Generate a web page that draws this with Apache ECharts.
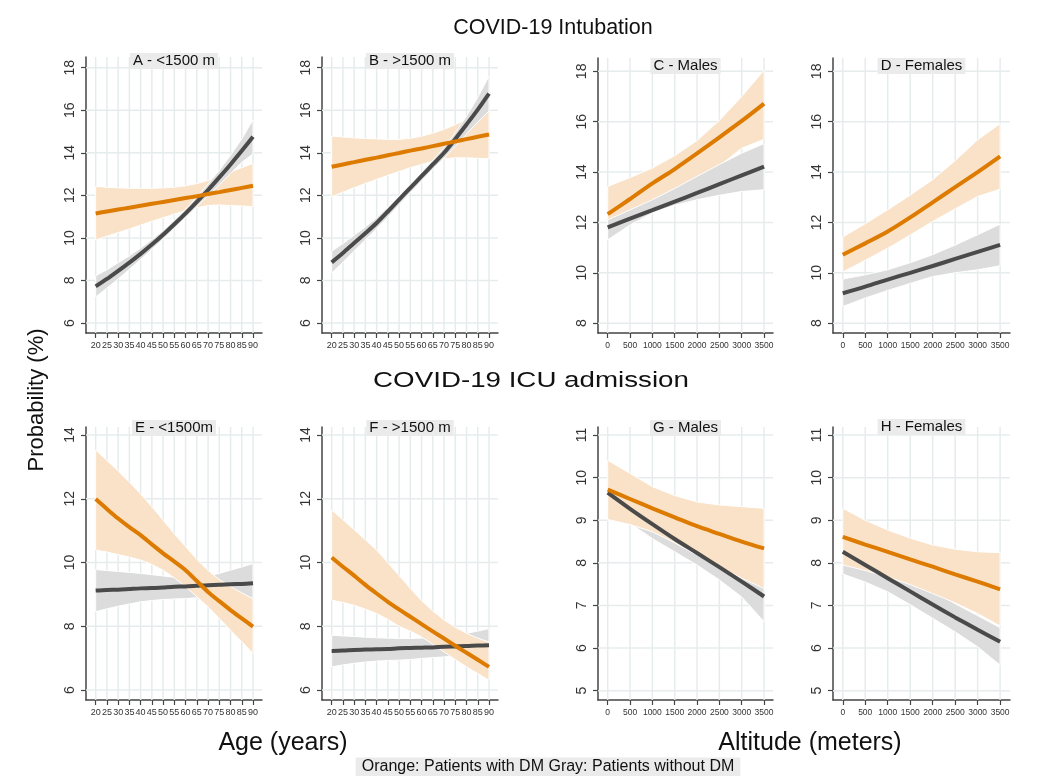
<!DOCTYPE html>
<html>
<head>
<meta charset="utf-8">
<title>COVID-19 Intubation / ICU admission</title>
<script src="https://cdn.jsdelivr.net/npm/echarts@6/dist/echarts.min.js"></script>
<style>
  html, body { margin: 0; padding: 0; background: #fff; }
  #chart { width: 1063px; height: 776px; }
</style>
</head>
<body>
<div id="chart"></div>
<script>
// ---------- ticks ----------
const ageTicks = [20, 25, 30, 35, 40, 45, 50, 55, 60, 65, 70, 75, 80, 85, 90];
const altTicks = [0, 500, 1000, 1500, 2000, 2500, 3000, 3500];
const topAgeYTicks = [6, 8, 10, 12, 14, 16, 18];
const topAltYTicks = [8, 10, 12, 14, 16, 18];
const botAgeYTicks = [6, 8, 10, 12, 14];
const botAltYTicks = [5, 6, 7, 8, 9, 10, 11];

const panelTitles = ['A - <1500 m', 'B - >1500 m', 'C - Males', 'D - Females',
  'E - <1500m', 'F - >1500 m', 'G - Males', 'H - Females'];

// ---------- A: intubation, <1500 m, by age ----------
const aOrange   = [11.15, 11.24, 11.33, 11.42, 11.51, 11.60, 11.69, 11.78, 11.87, 11.96, 12.06, 12.15, 12.25, 12.35, 12.45];
const aOrangeLo = [9.90, 10.08, 10.25, 10.42, 10.60, 10.78, 10.95, 11.12, 11.28, 11.42, 11.52, 11.55, 11.52, 11.50, 11.47];
const aOrangeHi = [12.42, 12.38, 12.35, 12.33, 12.33, 12.33, 12.35, 12.38, 12.45, 12.55, 12.70, 12.90, 13.10, 13.30, 13.50];
const aGray     = [7.72, 8.07, 8.45, 8.84, 9.25, 9.69, 10.15, 10.64, 11.15, 11.69, 12.25, 12.84, 13.45, 14.09, 14.75];
const aGrayLo   = [7.22, 7.64, 8.07, 8.52, 8.98, 9.46, 9.95, 10.45, 10.95, 11.46, 11.97, 12.50, 13.02, 13.55, 13.95];
const aGrayHi   = [8.22, 8.50, 8.83, 9.16, 9.52, 9.92, 10.35, 10.83, 11.35, 11.92, 12.53, 13.18, 13.88, 14.65, 15.55];

// ---------- B: intubation, >1500 m, by age ----------
const bOrange   = [13.34, 13.45, 13.56, 13.67, 13.77, 13.88, 13.99, 14.10, 14.20, 14.31, 14.42, 14.53, 14.64, 14.75, 14.86];
const bOrangeLo = [11.93, 12.15, 12.36, 12.56, 12.75, 12.94, 13.12, 13.30, 13.45, 13.60, 13.72, 13.76, 13.76, 13.74, 13.72];
const bOrangeHi = [14.78, 14.74, 14.70, 14.67, 14.65, 14.63, 14.63, 14.68, 14.78, 14.92, 15.10, 15.32, 15.57, 15.84, 16.12];
const bGray     = [8.85, 9.29, 9.76, 10.22, 10.70, 11.24, 11.80, 12.35, 12.90, 13.45, 14.00, 14.65, 15.33, 16.03, 16.78];
const bGrayLo   = [8.35, 8.85, 9.38, 9.90, 10.43, 10.98, 11.56, 12.12, 12.68, 13.22, 13.75, 14.30, 14.88, 15.45, 15.96];
const bGrayHi   = [9.37, 9.73, 10.12, 10.52, 10.95, 11.45, 11.98, 12.52, 13.08, 13.65, 14.25, 14.95, 15.72, 16.60, 17.60];

// ---------- C: intubation, males, by altitude ----------
const cOrange   = [12.33, 12.93, 13.55, 14.12, 14.74, 15.38, 16.03, 16.72];
const cOrangeLo = [11.34, 12.10, 12.83, 13.25, 13.63, 14.25, 14.95, 15.30];
const cOrangeHi = [13.43, 13.78, 14.16, 14.65, 15.25, 16.05, 17.00, 18.04];
const cGray     = [11.80, 12.15, 12.49, 12.83, 13.17, 13.52, 13.87, 14.22];
const cGrayLo   = [11.31, 11.90, 12.38, 12.68, 12.90, 13.08, 13.23, 13.30];
const cGrayHi   = [12.10, 12.50, 12.90, 13.35, 13.83, 14.30, 14.75, 15.13];

// ---------- D: intubation, females, by altitude ----------
const dOrange   = [10.72, 11.17, 11.64, 12.20, 12.80, 13.40, 14.00, 14.62];
const dOrangeLo = [10.03, 10.50, 10.98, 11.50, 12.04, 12.54, 13.03, 13.32];
const dOrangeHi = [11.42, 11.95, 12.50, 13.08, 13.70, 14.45, 15.28, 15.92];
const dGray     = [9.19, 9.45, 9.73, 10.00, 10.27, 10.55, 10.83, 11.11];
const dGrayLo   = [8.66, 9.00, 9.30, 9.58, 9.85, 10.00, 10.12, 10.28];
const dGrayHi   = [9.75, 9.92, 10.12, 10.40, 10.72, 11.10, 11.51, 11.93];

// ---------- E: ICU, <1500 m, by age ----------
const eOrange   = [11.99, 11.68, 11.38, 11.11, 10.86, 10.57, 10.29, 10.03, 9.76, 9.42, 9.08, 8.79, 8.51, 8.25, 7.99];
const eOrangeLo = [10.39, 10.33, 10.25, 10.17, 10.08, 9.94, 9.76, 9.52, 9.24, 8.93, 8.61, 8.25, 7.88, 7.52, 7.15];
const eOrangeHi = [13.53, 13.20, 12.87, 12.52, 12.15, 11.75, 11.33, 10.90, 10.50, 10.10, 9.75, 9.47, 9.25, 9.05, 8.87];
const eGray     = [9.12, 9.14, 9.15, 9.17, 9.19, 9.20, 9.22, 9.24, 9.25, 9.27, 9.29, 9.30, 9.32, 9.33, 9.35];
const eGrayLo   = [8.46, 8.55, 8.63, 8.70, 8.77, 8.81, 8.84, 8.86, 8.87, 8.90, 8.95, 8.97, 8.97, 8.93, 8.88];
const eGrayHi   = [9.78, 9.75, 9.72, 9.69, 9.66, 9.62, 9.58, 9.54, 9.50, 9.52, 9.58, 9.66, 9.76, 9.86, 9.97];

// ---------- F: ICU, >1500 m, by age ----------
const fOrange   = [10.16, 9.87, 9.59, 9.30, 9.03, 8.77, 8.53, 8.30, 8.07, 7.84, 7.62, 7.39, 7.17, 6.95, 6.73];
const fOrangeLo = [8.82, 8.75, 8.66, 8.54, 8.40, 8.22, 8.00, 7.85, 7.67, 7.44, 7.20, 6.96, 6.73, 6.52, 6.31];
const fOrangeHi = [11.65, 11.34, 11.03, 10.71, 10.39, 9.99, 9.59, 9.19, 8.80, 8.48, 8.20, 7.97, 7.78, 7.63, 7.51];
const fGray     = [7.23, 7.24, 7.26, 7.27, 7.28, 7.29, 7.31, 7.32, 7.33, 7.34, 7.36, 7.37, 7.38, 7.40, 7.41];
const fGrayLo   = [6.73, 6.79, 6.84, 6.88, 6.91, 6.93, 6.94, 6.96, 6.99, 7.02, 7.04, 7.08, 7.12, 7.16, 7.20];
const fGrayHi   = [7.72, 7.70, 7.68, 7.66, 7.64, 7.63, 7.62, 7.62, 7.63, 7.65, 7.68, 7.73, 7.78, 7.85, 7.93];

// ---------- G: ICU, males, by altitude ----------
const gOrange   = [9.72, 9.50, 9.28, 9.07, 8.86, 8.68, 8.50, 8.34];
const gOrangeLo = [9.02, 8.90, 8.73, 8.47, 8.18, 7.91, 7.64, 7.40];
const gOrangeHi = [10.41, 10.10, 9.79, 9.58, 9.43, 9.36, 9.32, 9.28];
const gGray     = [9.65, 9.27, 8.91, 8.56, 8.23, 7.90, 7.56, 7.21];
const gGrayLo   = [9.00, 8.93, 8.57, 8.26, 7.95, 7.60, 7.20, 6.62];
const gGrayHi   = [9.72, 9.36, 9.02, 8.69, 8.37, 8.05, 7.73, 7.45];

// ---------- H: ICU, females, by altitude ----------
const hOrange   = [8.61, 8.43, 8.26, 8.08, 7.91, 7.73, 7.56, 7.38];
const hOrangeLo = [7.95, 7.82, 7.67, 7.49, 7.28, 7.06, 6.81, 6.52];
const hOrangeHi = [9.28, 9.00, 8.77, 8.58, 8.42, 8.32, 8.26, 8.24];
const hGray     = [8.26, 7.95, 7.64, 7.33, 7.02, 6.72, 6.43, 6.15];
const hGrayLo   = [7.74, 7.55, 7.32, 7.02, 6.70, 6.38, 6.03, 5.60];
const hGrayHi   = [8.45, 8.20, 7.95, 7.64, 7.34, 7.04, 6.76, 6.48];

// ---------- styles ----------
const ORANGE = '#dd7a00';
const ORANGE_BAND = '#f9e2c7';
const GRAY = '#4a4a4a';
const GRAY_BAND = '#dcdcdc';
const GRIDLINE = '#e6ecec';
const AXIS = '#444';
const FONT = "'Liberation Sans', Arial, Helvetica, sans-serif";

// panel layout: rect = [left, top, width, height]
const panels = [
  { rect: [86, 57, 176, 276], x: ageTicks, xr: [15.7, 94], y: topAgeYTicks, yr: [5.53, 18.5],
    o: [aOrangeLo, aOrange, aOrangeHi], g: [aGrayLo, aGray, aGrayHi], grayOnTop: true, ty: 61 },
  { rect: [322, 57, 176, 276], x: ageTicks, xr: [15.7, 94], y: topAgeYTicks, yr: [5.53, 18.5],
    o: [bOrangeLo, bOrange, bOrangeHi], g: [bGrayLo, bGray, bGrayHi], grayOnTop: true, ty: 61 },
  { rect: [598, 58, 175, 275], x: altTicks, xr: [-217, 3700], y: topAltYTicks, yr: [7.61, 18.53],
    o: [cOrangeLo, cOrange, cOrangeHi], g: [cGrayLo, cGray, cGrayHi], grayOnTop: true, ty: 66 },
  { rect: [833, 58, 177, 275], x: altTicks, xr: [-217, 3720], y: topAltYTicks, yr: [7.61, 18.53],
    o: [dOrangeLo, dOrange, dOrangeHi], g: [dGrayLo, dGray, dGrayHi], grayOnTop: true, ty: 66 },
  { rect: [86, 427, 176, 273], x: ageTicks, xr: [15.7, 94], y: botAgeYTicks, yr: [5.69, 14.25],
    o: [eOrangeLo, eOrange, eOrangeHi], g: [eGrayLo, eGray, eGrayHi], grayOnTop: false, ty: 428 },
  { rect: [322, 427, 176, 273], x: ageTicks, xr: [15.7, 94], y: botAgeYTicks, yr: [5.69, 14.25],
    o: [fOrangeLo, fOrange, fOrangeHi], g: [fGrayLo, fGray, fGrayHi], grayOnTop: false, ty: 428 },
  { rect: [598, 427, 175, 273], x: altTicks, xr: [-217, 3700], y: botAltYTicks, yr: [4.78, 11.19],
    o: [gOrangeLo, gOrange, gOrangeHi], g: [gGrayLo, gGray, gGrayHi], grayOnTop: false, ty: 428 },
  { rect: [833, 427, 177, 273], x: altTicks, xr: [-217, 3720], y: botAltYTicks, yr: [4.78, 11.19],
    o: [hOrangeLo, hOrange, hOrangeHi], g: [hGrayLo, hGray, hGrayHi], grayOnTop: false, ty: 427 }
];

const grid = [];
const xAxis = [];
const yAxis = [];
const series = [];
const graphic = [];

// light grid lines at every tick, under everything else
const gridLineSeries = (i, xs, ys) => ({
  type: 'custom', xAxisIndex: i, yAxisIndex: i, z: 1, silent: true,
  data: [[xs[0], ys[0]]],
  renderItem: (params, api) => {
    const cs = params.coordSys;
    const children = [];
    xs.forEach(v => {
      const px = api.coord([v, ys[0]])[0];
      children.push({ type: 'line', shape: { x1: px, y1: cs.y, x2: px, y2: cs.y + cs.height },
        style: { stroke: GRIDLINE, lineWidth: 1.5 } });
    });
    ys.forEach(v => {
      const py = api.coord([xs[0], v])[1];
      children.push({ type: 'line', shape: { x1: cs.x, y1: py, x2: cs.x + cs.width, y2: py },
        style: { stroke: GRIDLINE, lineWidth: 1.5 } });
    });
    return { type: 'group', children: children };
  }
});

// confidence band as one polygon (upper edge, then lower edge back)
const bandSeries = (i, xs, lo, hi, color) => ({
  type: 'custom', xAxisIndex: i, yAxisIndex: i, z: 2, silent: true,
  data: xs.map((x, k) => [x, lo[k], hi[k]]),
  encode: { x: 0, y: [1, 2] },
  renderItem: (params, api) => {
    if (params.dataIndex !== 0) return null;
    const top = xs.map((x, k) => api.coord([x, hi[k]]));
    const bot = xs.map((x, k) => api.coord([x, lo[k]])).reverse();
    return {
      type: 'polygon', shape: { points: top.concat(bot) },
      style: { fill: color, stroke: '#ffffff', lineWidth: 1 }
    };
  }
});

const lineSeries = (i, xs, ys, color) => ({
  type: 'line', xAxisIndex: i, yAxisIndex: i, z: 3,
  data: xs.map((x, k) => [x, ys[k]]), smooth: 0.3, symbol: 'none', silent: true,
  lineStyle: { color: color, width: 4 }, emphasis: { disabled: true }
});

panels.forEach((p, i) => {
  const [l, t, w, h] = p.rect;
  const isAge = p.x === ageTicks;
  grid.push({ left: l, top: t, width: w, height: h, containLabel: false });

  xAxis.push({
    gridIndex: i, type: 'value', min: p.xr[0], max: p.xr[1],
    axisLine: { show: true, onZero: false, lineStyle: { color: AXIS, width: 1.5 } },
    axisTick: { show: true, length: 5, customValues: p.x, lineStyle: { color: AXIS, width: 1.2 } },
    axisLabel: {
      customValues: p.x, color: '#333', margin: 8,
      fontSize: isAge ? 9 : 8.5, fontFamily: FONT,
      formatter: v => String(v)
    },
    splitLine: { show: false }
  });
  yAxis.push({
    gridIndex: i, type: 'value', min: p.yr[0], max: p.yr[1],
    axisLine: { show: true, onZero: false, lineStyle: { color: AXIS, width: 1.5 } },
    axisTick: { show: true, length: 5, customValues: p.y, lineStyle: { color: AXIS, width: 1.2 } },
    axisLabel: { customValues: p.y, color: '#333', margin: 9, fontSize: 14, rotate: 90, fontFamily: FONT,
      formatter: v => String(v) },
    splitLine: { show: false }
  });

  series.push(gridLineSeries(i, p.x, p.y));
  const oBand = bandSeries(i, p.x, p.o[0], p.o[2], ORANGE_BAND);
  const gBand = bandSeries(i, p.x, p.g[0], p.g[2], GRAY_BAND);
  if (p.grayOnTop) series.push(oBand, gBand);
  else series.push(gBand, oBand);
  series.push(lineSeries(i, p.x, p.g[1], GRAY));
  series.push(lineSeries(i, p.x, p.o[1], ORANGE));

  graphic.push({
    type: 'text', z: 100, x: l + w / 2, y: p.ty,
    style: {
      text: panelTitles[i], fontSize: 15, fontFamily: FONT, fill: '#111',
      align: 'center', verticalAlign: 'middle',
      backgroundColor: '#ebebeb', padding: [1, 3, 0, 3]
    }
  });
});

// overall texts
const textEl = (text, x, y, size, extra) => Object.assign({
  type: 'text', z: 100, x: x, y: y,
  style: { text: text, fontSize: size, fontFamily: FONT, fill: '#111', align: 'center', verticalAlign: 'middle' }
}, extra || {});

graphic.push(textEl('COVID-19 Intubation', 553, 28, 21.5));
graphic.push(textEl('COVID-19 ICU admission', 531, 381, 22, { scaleX: 1.26 }));
graphic.push(textEl('Probability (%)', 37, 400, 22, { rotation: Math.PI / 2 }));
graphic.push(textEl('Age (years)', 283, 743, 25));
graphic.push(textEl('Altitude (meters)', 810, 743, 25));
graphic.push({
  type: 'text', z: 100, x: 548, y: 767,
  style: {
    text: 'Orange: Patients with DM Gray: Patients without DM', fontSize: 16, fontFamily: FONT,
    fill: '#111', align: 'center', verticalAlign: 'middle',
    backgroundColor: '#ebebeb', padding: [2, 6, 1, 6]
  }
});

const chart = echarts.init(document.getElementById('chart'), null, { renderer: 'canvas' });
chart.setOption({
  backgroundColor: '#ffffff',
  animation: false,
  grid: grid,
  xAxis: xAxis,
  yAxis: yAxis,
  series: series,
  graphic: graphic
});
</script>
</body>
</html>
